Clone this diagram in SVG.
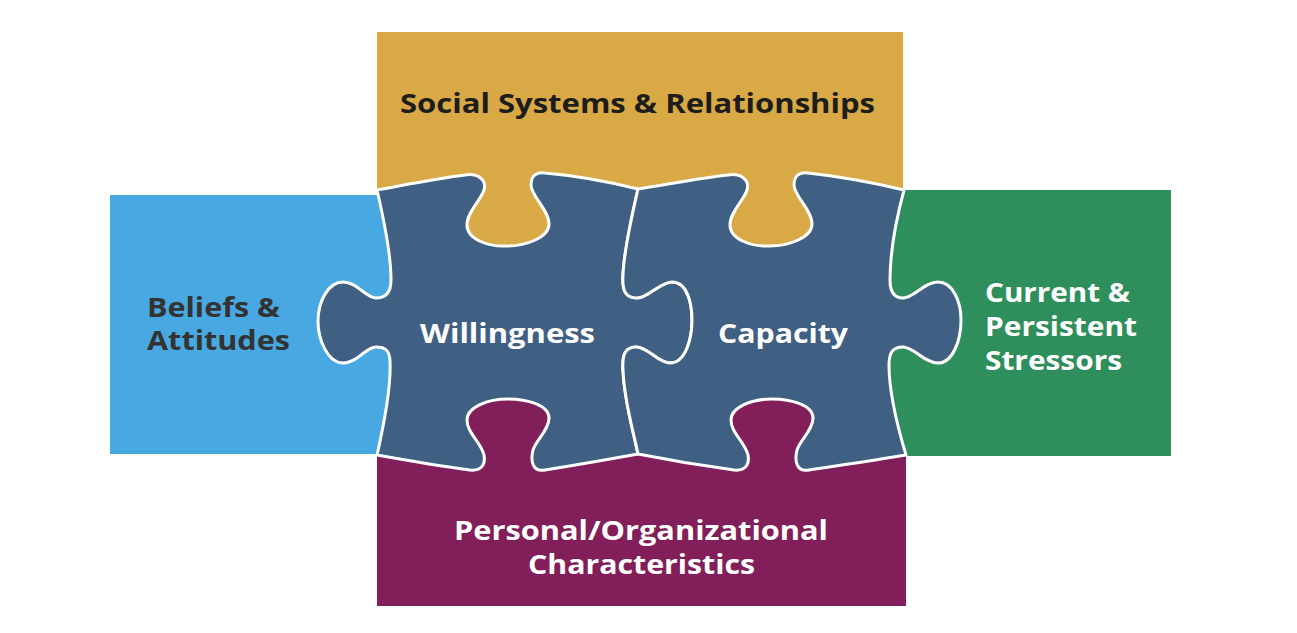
<svg xmlns="http://www.w3.org/2000/svg" width="1297" height="633" viewBox="0 0 1297 633">
<style>
.piece{fill:#3f6083;stroke:#ffffff;stroke-width:3;stroke-linejoin:round}
.t{font-family:"Open Sans","DejaVu Sans",sans-serif;font-weight:700;font-size:26px}
.w{fill:#ffffff}
.d{fill:#333333}
</style>
<rect width="1297" height="633" fill="#ffffff"/>
<g id="social-systems">
<rect x="377" y="32" width="526" height="220" fill="#d9a945"/>
<text class="t" x="637.5" y="113" text-anchor="middle" fill="#1d1d1b" font-size="25" textLength="475" lengthAdjust="spacingAndGlyphs">Social Systems &amp; Relationships</text>
</g>
<g id="personal-organizational">
<rect x="377" y="400" width="529" height="206" fill="#821f5a"/>
<text class="t w" x="641" y="540" text-anchor="middle" textLength="374" lengthAdjust="spacingAndGlyphs">Personal/Organizational</text>
<text class="t w" x="641.5" y="574" text-anchor="middle" textLength="227" lengthAdjust="spacingAndGlyphs">Characteristics</text>
</g>
<g id="beliefs-attitudes">
<rect x="110" y="195" width="285" height="259" fill="#48a8e1"/>
<text class="t d" x="147" y="317" textLength="133" lengthAdjust="spacingAndGlyphs">Beliefs &amp;</text>
<text class="t d" x="147" y="350" textLength="143" lengthAdjust="spacingAndGlyphs">Attitudes</text>
</g>
<g id="current-stressors">
<rect x="880" y="190" width="291" height="266" fill="#2f8f5c"/>
<text class="t w" x="985" y="302" textLength="145" lengthAdjust="spacingAndGlyphs">Current &amp;</text>
<text class="t w" x="985" y="336" textLength="152" lengthAdjust="spacingAndGlyphs">Persistent</text>
<text class="t w" x="985" y="370" textLength="137" lengthAdjust="spacingAndGlyphs">Stressors</text>
</g>
<g id="willingness">
<path class="piece" d="M 377 190 C 410 184, 440 178, 465 175 C 478 173, 487 180, 484 190 C 481 200, 467 212, 467 225 C 467 240, 490 247, 507 246 C 525 246, 549 238, 549 224 C 549 210, 531 196, 531 185 C 531 175, 537 172, 545 173 C 580 176, 610 182, 638 189 C 632 215, 624 250, 623 275 C 622 290, 625 298, 637 298 C 648 298, 660 282, 672 282 C 688 282, 692 305, 692 320 C 692 338, 686 363, 670 363 C 658 363, 648 347, 636 347 C 625 347, 622 355, 623 370 C 624 400, 633 430, 638 454 C 605 460, 570 466, 545 470 C 533 472, 530 462, 533 450 C 536 440, 549 430, 549 418 C 549 405, 527 399, 508 399 C 488 399, 467 407, 467 420 C 467 433, 481 442, 484 455 C 486 466, 480 471, 470 470 C 440 466, 405 460, 377 455 C 385 420, 391 385, 390 362 C 390 350, 385 347, 376 347 C 366 347, 357 363, 343 363 C 328 363, 318 340, 318 321 C 318 302, 328 282, 343 282 C 357 282, 366 298, 376 298 C 386 298, 391 292, 391 280 C 391 255, 384 220, 377 190 Z"/>
<text class="t w" x="507.5" y="343" text-anchor="middle" textLength="175" lengthAdjust="spacingAndGlyphs">Willingness</text>
</g>
<g id="capacity">
<path class="piece" d="M 638 189 C 670 184, 700 178, 728 175 C 741 173, 750 180, 747 190 C 744 200, 730 212, 730 225 C 730 240, 753 247, 770 246 C 788 246, 812 238, 812 224 C 812 210, 794 196, 794 185 C 794 175, 800 172, 808 173 C 845 177, 875 183, 904 190 C 896 220, 890 255, 890 280 C 890 292, 894 298, 903 298 C 914 298, 924 282, 938 282 C 953 282, 961 302, 961 320 C 961 340, 953 363, 938 363 C 924 363, 914 347, 903 347 C 893 347, 889 352, 889 365 C 889 390, 897 425, 906 455 C 870 461, 835 466, 809 470 C 797 472, 794 462, 797 450 C 800 440, 813 430, 813 418 C 813 405, 791 399, 772 399 C 752 399, 731 407, 731 420 C 731 433, 745 442, 748 455 C 750 466, 744 471, 734 470 C 704 466, 668 460, 638 454 C 633 430, 624 400, 623 370 C 622 355, 625 347, 636 347 C 648 347, 658 363, 670 363 C 686 363, 692 338, 692 320 C 692 305, 688 282, 672 282 C 660 282, 648 298, 637 298 C 625 298, 622 290, 623 275 C 624 250, 632 215, 638 189 Z"/>
<text class="t w" x="783" y="343" text-anchor="middle" textLength="130" lengthAdjust="spacingAndGlyphs">Capacity</text>
</g>
<g id="connectors"></g>
</svg>
